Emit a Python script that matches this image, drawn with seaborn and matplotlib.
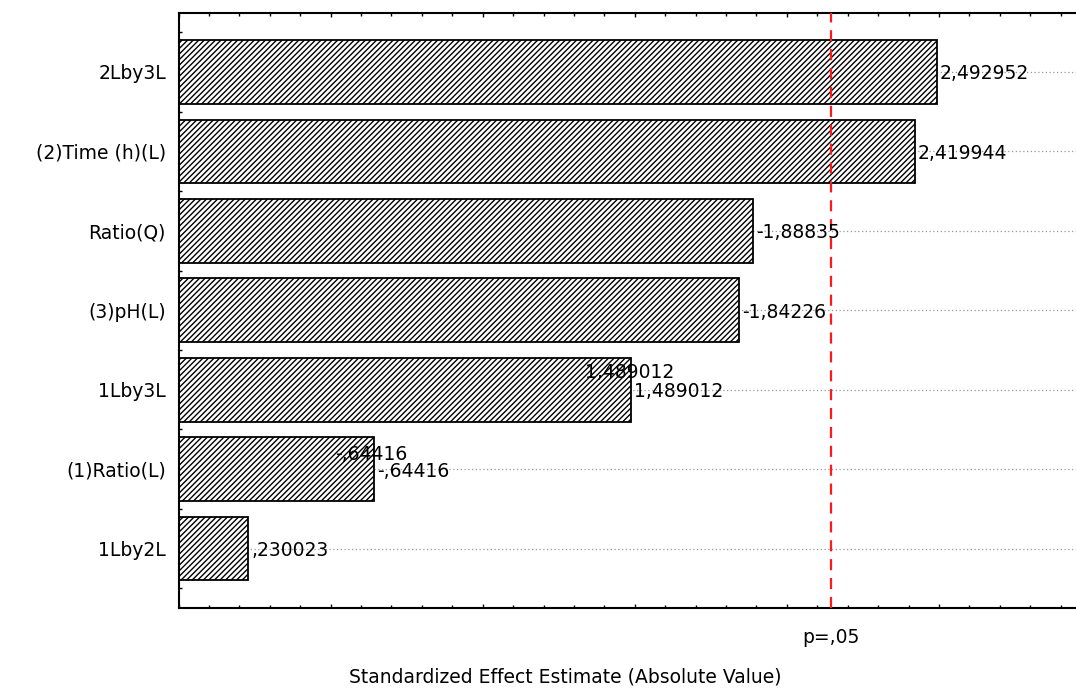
import matplotlib
matplotlib.use("Agg")
import matplotlib.pyplot as plt
from matplotlib.ticker import MultipleLocator, NullFormatter
import numpy as np
import pandas as pd
import seaborn as sns

# Pareto chart of standardized effects (t-values), sorted by magnitude
effects = ["2Lby3L", "(2)Time (h)(L)", "Ratio(Q)", "(3)pH(L)",
           "1Lby3L", "(1)Ratio(L)", "1Lby2L"]
t_values = [2.492952, 2.419944, -1.88835, -1.84226, 1.489012, -0.64416, 0.230023]
p_crit = 2.1448          # critical t at p = .05
p_label = "p=,05"
x_title = "Standardized Effect Estimate (Absolute Value)"

# labels that the plotting software printed twice (second copy displaced)
echo_labels = {"1Lby3L": (-46, 19), "(1)Ratio(L)": (-39, 17)}

sns.set_style("ticks")
plt.rcParams["font.family"] = ["DejaVu Sans"]
plt.rcParams["hatch.linewidth"] = 1.0
for key in ("text.color", "axes.labelcolor", "xtick.color", "ytick.color",
            "xtick.labelcolor", "ytick.labelcolor"):
    plt.rcParams[key] = "black"
FS = 13.5

df = pd.DataFrame({"effect": effects, "t": t_values})
df["abs_t"] = df["t"].abs()


def stat_fmt(v):
    s = f"{v:.7g}"
    if s.lstrip("-").startswith("0."):
        s = s.replace("0.", ".", 1)
    return s.replace(".", ",")


W, H = 1076, 691
fig = plt.figure(figsize=(W / 100, H / 100), dpi=100)
ax = fig.add_axes([178.5 / W, (H - 607.5) / H, 1 - 178.5 / W, (607.5 - 13) / H])

sns.barplot(data=df, x="abs_t", y="effect", orient="h", ax=ax,
            color="white", edgecolor="black", linewidth=1.3,
            hatch="//////", width=0.8, saturation=1, zorder=2)

ax.set_xlim(0, (W - 178.5) / 304.2)
ax.set_ylim(len(effects) - 1 + 0.74, -0.74)

# dotted guide lines at each bar, behind the bars
for i in range(len(effects)):
    ax.axhline(i, color="#999999", lw=0.9, ls=(0, (1, 2)), zorder=0.5)

# significance threshold
ax.axvline(p_crit, color="#ff1a1a", lw=1.6, ls=(0, (5, 3.5)), zorder=3)

# value labels at bar ends
for i, (name, v) in enumerate(zip(df["effect"], df["t"])):
    a = abs(v)
    ax.annotate(stat_fmt(v), xy=(a, i), xytext=(3, 0), textcoords="offset pixels",
                ha="left", va="center_baseline", fontsize=FS, color="black", zorder=4)
    if name in echo_labels:
        dx, dy = echo_labels[name]
        ax.annotate(stat_fmt(v), xy=(a, i), xytext=(dx, dy), textcoords="offset pixels",
                    ha="left", va="center_baseline", fontsize=FS, color="black", zorder=4)

# axis styling
ax.xaxis.set_major_locator(MultipleLocator(0.5))
ax.xaxis.set_minor_locator(MultipleLocator(0.1))
ax.xaxis.set_major_formatter(NullFormatter())
ax.yaxis.set_minor_locator(MultipleLocator(0.25))
ax.tick_params(axis="x", which="both", direction="in", top=True, bottom=True,
               width=1.0, color="black")
ax.tick_params(axis="x", which="major", length=3.2)
ax.tick_params(axis="x", which="minor", length=2.2)
ax.tick_params(axis="y", which="both", direction="in", left=True, right=False,
               length=2.2, width=1.0, color="black")
ax.tick_params(axis="y", which="major", labelsize=FS, pad=9, labelcolor="black")
ax.set_xlabel("")
ax.set_ylabel("")
for side in ("left", "top", "bottom"):
    ax.spines[side].set_linewidth(1.5)
    ax.spines[side].set_color("black")
ax.spines["right"].set_visible(False)

ax.annotate(p_label, xy=(p_crit, 0), xycoords=("data", "axes fraction"),
            xytext=(0, -30), textcoords="offset pixels",
            ha="center", va="center", fontsize=FS, color="black")
fig.text(565 / W, 1 - 677 / H, x_title, ha="center", va="center",
         fontsize=FS, color="black")

fig.savefig("out.png", dpi=100, facecolor="white")
